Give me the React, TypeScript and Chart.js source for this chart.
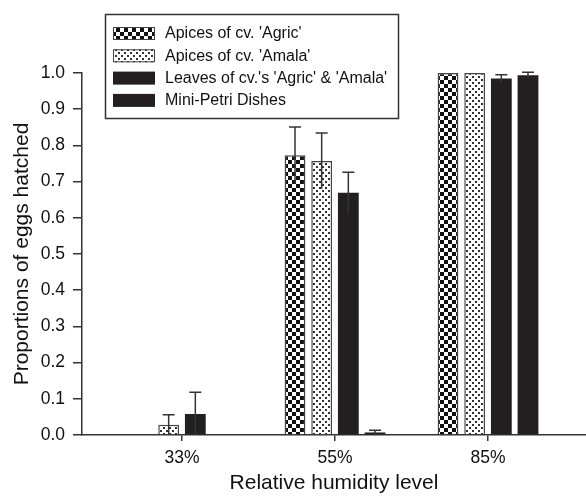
import React, { useEffect, useRef } from 'react';
import { Chart, registerables } from 'chart.js';

Chart.register(...registerables);

const categories = ['33%', '55%', '85%'];
const seriesLabels = [
  "Apices of cv. 'Agric'",
  "Apices of cv. 'Amala'",
  "Leaves of cv.'s 'Agric' & 'Amala'",
  'Mini-Petri Dishes',
];
const agricApices = [null, 0.773, 1.0];
const agricApicesErr = [0, 0.078, 0];
const amalaApices = [0.028, 0.757, 1.0];
const amalaApicesErr = [0.028, 0.077, 0];
const leaves = [0.058, 0.669, 0.985];
const leavesErr = [0.06, 0.057, 0.01];
const miniPetri = [null, 0.007, 0.994];
const miniPetriErr = [0, 0.006, 0.008];
const yTickValues = [0, 0.1, 0.2, 0.3, 0.4, 0.5, 0.6, 0.7, 0.8, 0.9, 1.0];

const seriesValues = [agricApices, amalaApices, leaves, miniPetri];
const seriesErrors = [agricApicesErr, amalaApicesErr, leavesErr, miniPetriErr];

const FONT = '"Liberation Sans", Arial, sans-serif';
const BLACK = '#231f20';

function checkerPattern(ctx: CanvasRenderingContext2D) {
  const c = document.createElement('canvas');
  c.width = 8;
  c.height = 8;
  const g = c.getContext('2d')!;
  g.fillStyle = '#fff';
  g.fillRect(0, 0, 8, 8);
  g.fillStyle = '#111';
  g.fillRect(0, 0, 4, 4);
  g.fillRect(4, 4, 4, 4);
  return ctx.createPattern(c, 'repeat')!;
}

function dotPattern(ctx: CanvasRenderingContext2D) {
  const c = document.createElement('canvas');
  c.width = 6;
  c.height = 6;
  const g = c.getContext('2d')!;
  g.fillStyle = '#fff';
  g.fillRect(0, 0, 6, 6);
  g.fillStyle = '#333';
  g.fillRect(1, 1, 2, 2);
  g.fillRect(4, 4, 2, 2);
  return ctx.createPattern(c, 'repeat')!;
}

const errorBarPlugin = {
  id: 'errorBars',
  afterDatasetsDraw(chart: any) {
    const ctx = chart.ctx as CanvasRenderingContext2D;
    const y = chart.scales.y;
    ctx.save();
    ctx.strokeStyle = '#333';
    ctx.lineWidth = 1.5;
    chart.data.datasets.forEach((ds: any, i: number) => {
      const meta = chart.getDatasetMeta(i);
      const errs = seriesErrors[i];
      meta.data.forEach((bar: any, j: number) => {
        const v = seriesValues[i][j];
        const e = errs[j];
        if (v == null || !e) return;
        const top = y.getPixelForValue(v + e);
        const bot = y.getPixelForValue(Math.max(0, v - e));
        ctx.beginPath();
        ctx.moveTo(bar.x, bot);
        ctx.lineTo(bar.x, top);
        ctx.moveTo(bar.x - 6, top);
        ctx.lineTo(bar.x + 6, top);
        ctx.stroke();
      });
    });
    ctx.restore();
  },
};

const legendPlugin = {
  id: 'boxLegend',
  afterDraw(chart: any) {
    const ctx = chart.ctx as CanvasRenderingContext2D;
    ctx.save();
    ctx.fillStyle = '#fff';
    ctx.fillRect(105, 14, 293, 104);
    ctx.strokeStyle = '#333';
    ctx.lineWidth = 1.5;
    ctx.strokeRect(105.5, 14.5, 293, 104);
    chart.data.datasets.forEach((ds: any, i: number) => {
      const cy = 33.5 + i * 22.3;
      ctx.fillStyle = ds.backgroundColor;
      ctx.fillRect(113, cy - 6.5, 42, 13);
      if (ds.borderWidth) {
        ctx.strokeStyle = ds.borderColor;
        ctx.lineWidth = 1;
        ctx.strokeRect(113.5, cy - 6, 41, 12);
      }
      ctx.fillStyle = '#111';
      ctx.font = `16px ${FONT}`;
      ctx.textBaseline = 'middle';
      ctx.textAlign = 'left';
      ctx.fillText(ds.label, 165, cy + 0.5);
    });
    ctx.restore();
  },
};

export default function App() {
  const ref = useRef<HTMLCanvasElement>(null);

  useEffect(() => {
    document.body.style.margin = '0';
    const canvas = ref.current!;
    const ctx = canvas.getContext('2d')!;
    const fills = [checkerPattern(ctx), dotPattern(ctx), BLACK, BLACK];
    const chart = new Chart(canvas, {
      type: 'bar',
      data: {
        datasets: seriesValues.map((vals, i) => ({
          label: seriesLabels[i],
          data: vals.map((v, j) => ({ x: j + 1, y: v })),
          backgroundColor: fills[i],
          borderColor: '#444',
          borderWidth: i < 2 ? 1.5 : 0,
          borderSkipped: 'start',
          categoryPercentage: 0.697,
          barPercentage: 0.78,
        })) as any,
      },
      options: {
        responsive: false,
        animation: false,
        layout: { padding: { left: 0, right: 0, top: 73, bottom: 0 } },
        plugins: { legend: { display: false }, tooltip: { enabled: false } },
        scales: {
          x: {
            type: 'linear',
            min: 0.3464,
            max: 3.6405,
            offset: false,
            afterBuildTicks: (scale: any) => {
              scale.ticks = categories.map((_, i) => ({ value: i + 1 }));
            },
            afterFit: (scale: any) => {
              scale.height = 61;
            },
            grid: {
              display: true,
              offset: false,
              drawOnChartArea: false,
              drawTicks: true,
              tickLength: 6,
              color: '#333',
              lineWidth: 1.5,
            },
            border: { display: true, color: '#333', width: 1.5 },
            ticks: {
              autoSkip: false,
              maxRotation: 0,
              padding: 6.5,
              color: '#111',
              font: { family: FONT, size: 17.5 },
              callback: (v: any) => categories[Math.round(Number(v)) - 1] ?? '',
            },
            title: {
              display: true,
              text: 'Relative humidity level',
              color: '#111',
              font: { family: FONT, size: 21 },
              padding: { top: 0, bottom: 0 },
            },
          },
          y: {
            min: 0,
            max: 1,
            afterBuildTicks: (scale: any) => {
              scale.ticks = yTickValues.map((v) => ({ value: v }));
            },
            afterFit: (scale: any) => {
              scale.width = 82;
            },
            grid: {
              display: true,
              drawOnChartArea: false,
              drawTicks: true,
              tickLength: 9,
              color: '#333',
              lineWidth: 1.5,
            },
            border: { display: true, color: '#333', width: 1.5 },
            ticks: {
              padding: 8,
              color: '#111',
              font: { family: FONT, size: 17.5 },
              callback: (v: any) => Number(v).toFixed(1),
            },
            title: {
              display: true,
              text: 'Proportions of eggs hatched',
              color: '#111',
              font: { family: FONT, size: 21 },
              padding: { top: 10, bottom: 0 },
            },
          },
        },
      } as any,
      plugins: [errorBarPlugin, legendPlugin],
    });
    return () => chart.destroy();
  }, []);

  return (
    <div style={{ width: 586, height: 496 }}>
      <canvas ref={ref} width={586} height={496} style={{ display: 'block' }} />
    </div>
  );
}
